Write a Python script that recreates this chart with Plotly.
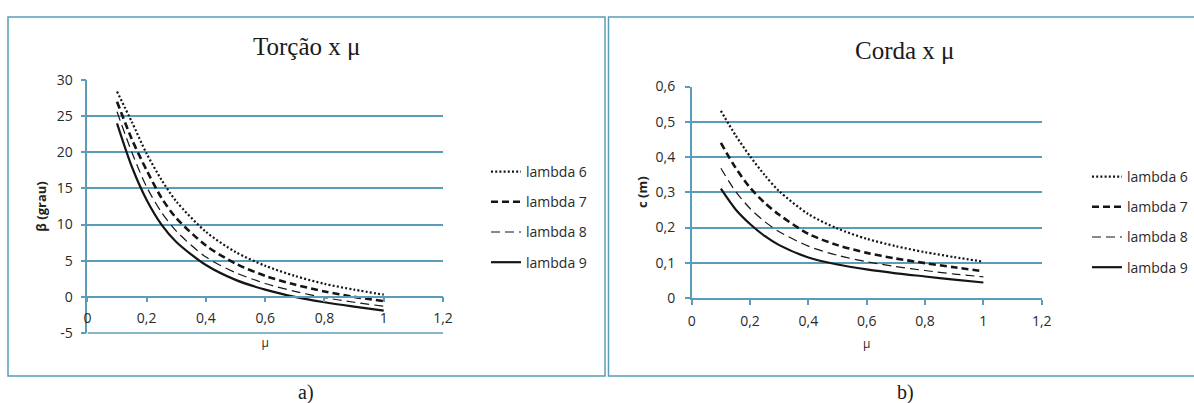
import plotly.graph_objects as go

# Spanwise station (mu = r/R)
mu = [0.1, 0.15, 0.2, 0.25, 0.3, 0.4, 0.5, 0.6, 0.7, 0.8, 0.9, 1.0]

series_names = ["lambda 6", "lambda 7", "lambda 8", "lambda 9"]

# Twist angle beta (degrees) for each tip-speed ratio
torcao_l6 = [28.4, 24.2, 19.8, 16.2, 13.2, 9.0, 6.2, 4.3, 2.9, 1.8, 1.0, 0.3]
torcao_l7 = [27.0, 21.8, 17.5, 13.7, 10.9, 7.1, 4.6, 2.9, 1.7, 0.75, 0.0, -0.6]
torcao_l8 = [25.6, 20.0, 15.2, 11.7, 9.1, 5.5, 3.35, 1.85, 0.75, -0.1, -0.75, -1.3]
torcao_l9 = [24.0, 18.0, 13.4, 10.0, 7.6, 4.4, 2.35, 1.0, 0.0, -0.75, -1.35, -1.9]

# Chord c (m) for each tip-speed ratio
corda_l6 = [0.531, 0.462, 0.402, 0.349, 0.303, 0.238, 0.197, 0.168, 0.147, 0.130, 0.116, 0.103]
corda_l7 = [0.440, 0.370, 0.313, 0.270, 0.236, 0.182, 0.150, 0.128, 0.112, 0.099, 0.087, 0.076]
corda_l8 = [0.368, 0.303, 0.254, 0.217, 0.188, 0.147, 0.121, 0.103, 0.089, 0.078, 0.068, 0.060]
corda_l9 = [0.310, 0.252, 0.210, 0.176, 0.150, 0.115, 0.095, 0.081, 0.070, 0.061, 0.052, 0.044]

x_ticks = [0, 0.2, 0.4, 0.6, 0.8, 1.0, 1.2]
x_tick_labels = ["0", "0,2", "0,4", "0,6", "0,8", "1", "1,2"]
torcao_ticks = [-5, 0, 5, 10, 15, 20, 25, 30]
torcao_tick_labels = ["-5", "0", "5", "10", "15", "20", "25", "30"]
corda_ticks = [0, 0.1, 0.2, 0.3, 0.4, 0.5, 0.6]
corda_tick_labels = ["0", "0,1", "0,2", "0,3", "0,4", "0,5", "0,6"]

LINE = "#151515"
BLUE = "#5b9db8"
TXT = "#2a2a2a"
SANS = "Open Sans"
SERIF = "Liberation Serif"
W, H = 1194, 403

line_styles = [
    dict(color=LINE, width=2.2, dash="2px,2.2px"),
    dict(color=LINE, width=2.6, dash="7px,4px"),
    dict(color=LINE, width=1.2, dash="9px,5px"),
    dict(color=LINE, width=2.2),
]

fig = go.Figure()

for name, ys, st in zip(series_names, [torcao_l6, torcao_l7, torcao_l8, torcao_l9], line_styles):
    fig.add_trace(go.Scatter(
        x=mu, y=ys, name=name, mode="lines", line=dict(shape="spline", smoothing=0.8, **st),
        xaxis="x", yaxis="y", legend="legend", legendgroup="a" + name,
    ))

for name, ys, st in zip(series_names, [corda_l6, corda_l7, corda_l8, corda_l9], line_styles):
    fig.add_trace(go.Scatter(
        x=mu, y=ys, name=name, mode="lines", line=dict(shape="spline", smoothing=0.8, **st),
        xaxis="x2", yaxis="y2", legend="legend2", legendgroup="b" + name,
    ))


def px_x(p):
    return p / W


def px_y(p):
    return 1 - p / H


tick_font = dict(family=SANS, size=14, color=TXT)
axis_common = dict(
    showline=True, linecolor=BLUE, linewidth=1.5,
    ticks="outside", ticklen=5, tickcolor=BLUE, tickwidth=1.5,
    tickfont=tick_font, zeroline=False, automargin=False,
)

legend_common = dict(
    xanchor="left", yanchor="top", traceorder="grouped", tracegroupgap=9,
    font=dict(family=SANS, size=14, color=TXT), bgcolor="rgba(0,0,0,0)",
)

# Pixel rows of the twist chart's value range (top = 30, bottom = -5)
BETA_TOP_PX, BETA_BOTTOM_PX = 80, 333

fig.update_layout(
    width=W, height=H,
    margin=dict(l=0, r=0, t=0, b=0),
    paper_bgcolor="white", plot_bgcolor="white",
    showlegend=True,
    xaxis=dict(
        domain=[px_x(87.4), px_x(443)], range=[0, 1.2],
        tickvals=x_ticks, ticktext=x_tick_labels, showgrid=False,
        anchor="free", position=px_y(296.7), ticklabelstandoff=4,
        title=dict(text="μ", font=dict(family=SANS, size=12, color=TXT), standoff=11),
        **axis_common,
    ),
    yaxis=dict(
        domain=[px_y(BETA_BOTTOM_PX), px_y(BETA_TOP_PX)], range=[-5, 30],
        tickvals=torcao_ticks, ticktext=torcao_tick_labels,
        showgrid=True, gridcolor=BLUE, gridwidth=1.5, anchor="x", ticklabelstandoff=5,
        title=dict(text="<b>β (grau)</b>", font=dict(family=SANS, size=13, color="#222"), standoff=7),
        **axis_common,
    ),
    xaxis2=dict(
        domain=[px_x(691.7), px_x(1041.7)], range=[0, 1.2],
        tickvals=x_ticks, ticktext=x_tick_labels, showgrid=False, anchor="y2",
        ticklabelstandoff=4,
        title=dict(text="μ", font=dict(family=SANS, size=12, color=TXT), standoff=11),
        **axis_common,
    ),
    yaxis2=dict(
        domain=[px_y(298), px_y(86.5)], range=[0, 0.6],
        tickvals=corda_ticks, ticktext=corda_tick_labels,
        showgrid=True, gridcolor=BLUE, gridwidth=1.5, anchor="x2", ticklabelstandoff=7,
        title=dict(text="<b>c (m)</b>", font=dict(family=SANS, size=13, color="#222"), standoff=5),
        **axis_common,
    ),
    legend=dict(x=px_x(486), y=px_y(156), **legend_common),
    legend2=dict(x=px_x(1087), y=px_y(161), **legend_common),
)

# Bottom gridline of the twist chart (the -5 level, which is the bottom of the y domain)
fig.add_shape(type="line", xref="x", yref="paper",
              x0=x_ticks[0], x1=x_ticks[-1],
              y0=px_y(BETA_BOTTOM_PX), y1=px_y(BETA_BOTTOM_PX),
              line=dict(color=BLUE, width=1.5), layer="above")

# Panel frames
fig.add_shape(type="rect", xref="paper", yref="paper",
              x0=px_x(8), x1=px_x(605), y0=px_y(376), y1=px_y(17),
              line=dict(color=BLUE, width=1.5))
fig.add_shape(type="rect", xref="paper", yref="paper",
              x0=px_x(608.5), x1=px_x(1200), y0=px_y(376), y1=px_y(17),
              line=dict(color=BLUE, width=1.5))

# Chart titles and panel captions
fig.add_annotation(text="Torção x μ", x=px_x(306), y=px_y(47), xref="paper", yref="paper",
                   showarrow=False, xanchor="center", yanchor="middle",
                   font=dict(family=SERIF, size=25, color="#1a1a1a"))
fig.add_annotation(text="Corda x μ", x=px_x(905), y=px_y(50), xref="paper", yref="paper",
                   showarrow=False, xanchor="center", yanchor="middle",
                   font=dict(family=SERIF, size=25, color="#1a1a1a"))
fig.add_annotation(text="a)", x=px_x(306), y=px_y(392), xref="paper", yref="paper",
                   showarrow=False, xanchor="center", yanchor="middle",
                   font=dict(family=SERIF, size=20, color="#1a1a1a"))
fig.add_annotation(text="b)", x=px_x(905), y=px_y(392), xref="paper", yref="paper",
                   showarrow=False, xanchor="center", yanchor="middle",
                   font=dict(family=SERIF, size=20, color="#1a1a1a"))

fig.write_html("out.html")
